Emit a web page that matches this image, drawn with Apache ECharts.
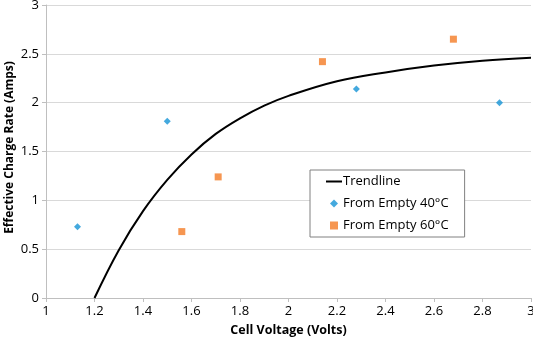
<!DOCTYPE html>
<html><head><meta charset="utf-8">
<script src="https://cdn.jsdelivr.net/npm/echarts@6/dist/echarts.min.js"></script>
<style>html,body{margin:0;padding:0;background:#fff}#c{width:533px;height:344px}</style>
</head><body><div id="c"></div>
<script>
const xTicks = [1, 1.2, 1.4, 1.6, 1.8, 2, 2.2, 2.4, 2.6, 2.8, 3];
const yTicks = [0, 0.5, 1, 1.5, 2, 2.5, 3];
const trendX = [1.2, 1.3, 1.4, 1.5, 1.6, 1.7, 1.8, 1.9, 2.0, 2.2, 2.4, 2.6, 2.8, 3.0];
const trendY = [0, 0.49, 0.89, 1.21, 1.47, 1.68, 1.84, 1.97, 2.07, 2.22, 2.31, 2.38, 2.43, 2.46];
const x40 = [1.13, 1.50, 2.28, 2.87];
const y40 = [0.73, 1.81, 2.14, 2.00];
const x60 = [1.56, 1.71, 2.14, 2.68];
const y60 = [0.68, 1.24, 2.42, 2.65];
const names = ['Trendline', 'From Empty 40°C', 'From Empty 60°C'];

const zip = (a, b) => a.map((v, i) => [v, b[i]]);
const font = 'Open Sans';
const chart = echarts.init(document.getElementById('c'), null, {renderer: 'canvas'});
chart.setOption({
  animation: false,
  textStyle: {fontFamily: font},
  grid: {left: 46, right: 2, top: 5, bottom: 46, containLabel: false, outerBoundsMode: 'none'},
  xAxis: {
    type: 'value', min: xTicks[0], max: xTicks[xTicks.length - 1], interval: 0.2,
    name: 'Cell Voltage (Volts)', nameLocation: 'middle', nameGap: 26, nameMoveOverlap: false,
    nameTextStyle: {fontFamily: font, fontWeight: 'bold', fontSize: 12.5, color: '#000'},
    axisLine: {lineStyle: {color: '#bfbfbf'}},
    axisTick: {show: true, length: 4, lineStyle: {color: '#bfbfbf'}},
    axisLabel: {fontFamily: font, fontSize: 13, color: '#000', margin: 7,
      formatter: v => String(Math.round(v * 10) / 10)},
    splitLine: {show: false}
  },
  yAxis: {
    type: 'value', min: yTicks[0], max: yTicks[yTicks.length - 1], interval: 0.5,
    name: 'Effective Charge Rate (Amps)', nameLocation: 'middle', nameGap: 30, nameMoveOverlap: false,
    nameTextStyle: {fontFamily: font, fontWeight: 'bold', fontSize: 12, color: '#000', padding: [0, 0, 0, 8]},
    axisLine: {show: true, lineStyle: {color: '#bfbfbf'}},
    axisTick: {show: true, length: 4, lineStyle: {color: '#bfbfbf'}},
    axisLabel: {fontFamily: font, fontSize: 13, color: '#000', margin: 7},
    splitLine: {show: true, lineStyle: {color: '#d9d9d9', width: 1}}
  },
  legend: {
    orient: 'vertical', left: 310, top: 170,
    backgroundColor: '#fff', borderColor: '#808080', borderWidth: 1,
    padding: [3, 16, 3, 16], itemGap: 5, itemWidth: 16, itemHeight: 8,
    textStyle: {fontFamily: font, fontSize: 13, color: '#000', padding: [0, 0, 0, -4], lineHeight: 17},
    data: [
      {name: names[0], icon: 'path://M0,0 L16,0 L16,2 L0,2 Z'},
      {name: names[1], icon: 'path://M5,0 L10,5 L5,10 L0,5 Z'},
      {name: names[2], icon: 'path://M0,0 L10,0 L10,10 L0,10 Z'}
    ]
  },
  series: [
    {name: names[0], type: 'line', data: zip(trendX, trendY), smooth: 0.4, symbol: 'none',
      lineStyle: {color: '#000', width: 2}, itemStyle: {color: '#000'}, z: 2},
    {name: names[1], type: 'scatter', data: zip(x40, y40), symbol: 'diamond', symbolSize: 7,
      itemStyle: {color: '#1593d6'}, z: 3},
    {name: names[2], type: 'scatter', data: zip(x60, y60), symbol: 'rect', symbolSize: 7,
      itemStyle: {color: '#f47c26'}, z: 3}
  ]
});
</script></body></html>
